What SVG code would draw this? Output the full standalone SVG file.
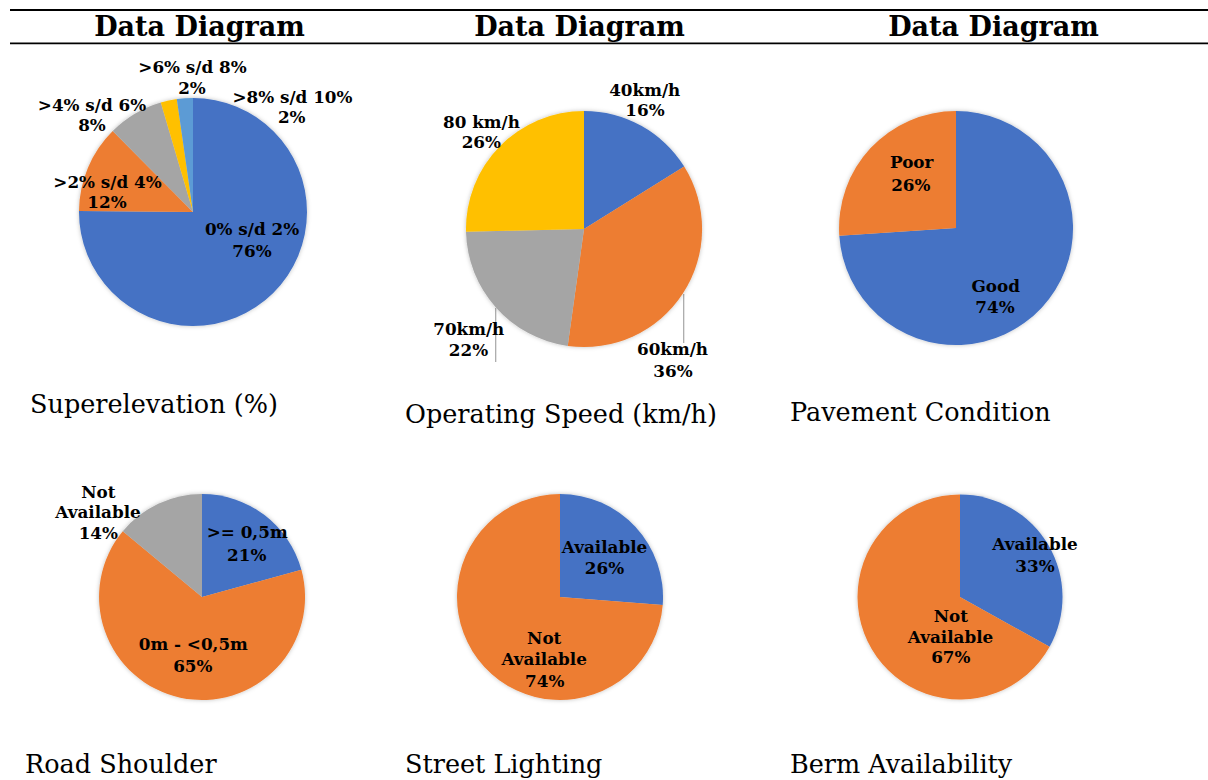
<svg xmlns="http://www.w3.org/2000/svg" width="1208" height="780" viewBox="0 0 1208 780">
<style>
.title{font-family:"DejaVu Serif","Liberation Serif",serif;font-weight:bold;font-size:27px;fill:#000;text-anchor:middle}
.lbl{font-family:"DejaVu Serif","Liberation Serif",serif;font-weight:bold;font-size:16.8px;fill:#000;text-anchor:middle}
.cap{font-family:"DejaVu Serif","Liberation Serif",serif;font-size:25.5px;fill:#000}
.rule{stroke:#000;stroke-width:1.8}
.lead{stroke:#a6a6a6;stroke-width:1.2}
.b{fill:#4472c4}.o{fill:#ed7d31}.g{fill:#a5a5a5}.y{fill:#ffc000}.lb{fill:#5b9bd5}
</style>
<defs>
<filter id="sh" x="-10%" y="-10%" width="120%" height="120%">
<feDropShadow dx="0" dy="0" stdDeviation="2" flood-color="#000" flood-opacity="0.25"/>
</filter>
</defs>
<rect width="1208" height="780" fill="#fff"/>
<g id="header">
<line class="rule" x1="10" y1="10" x2="1208" y2="10"/>
<line class="rule" x1="10" y1="43.3" x2="1208" y2="43.3"/>
<text class="title" x="199.5" y="36">Data Diagram</text>
<text class="title" x="579.5" y="36">Data Diagram</text>
<text class="title" x="993.5" y="36">Data Diagram</text>
</g>
<g id="connectors">
<line class="lead" x1="683.7" y1="294" x2="683.7" y2="343"/>
<line class="lead" x1="495.7" y1="308" x2="495.7" y2="362"/>
</g>
<g id="pie-superelevation">
<g filter="url(#sh)">
<path class="b" d="M193,212 L193,98 A114,114 0 1 1 79,211 Z"/>
<path class="o" d="M193,212 L79,211 A114,114 0 0 1 112.7,131.1 Z"/>
<path class="g" d="M193,212 L112.7,131.1 A114,114 0 0 1 160.8,102.6 Z"/>
<path class="y" d="M193,212 L160.8,102.6 A114,114 0 0 1 176.8,99.1 Z"/>
<path class="lb" d="M193,212 L176.8,99.1 A114,114 0 0 1 193,98 Z"/>
</g>
<text class="lbl" x="192.5" y="72.7">&gt;6% s/d 8%</text>
<text class="lbl" x="192" y="94">2%</text>
<text class="lbl" x="292.5" y="102.7">&gt;8% s/d 10%</text>
<text class="lbl" x="291.7" y="123.3">2%</text>
<text class="lbl" x="92" y="110.7">&gt;4% s/d 6%</text>
<text class="lbl" x="92" y="131">8%</text>
<text class="lbl" x="107.5" y="188.3">&gt;2% s/d 4%</text>
<text class="lbl" x="107" y="208.3">12%</text>
<text class="lbl" x="252" y="235">0% s/d 2%</text>
<text class="lbl" x="252" y="257">76%</text>
<text class="cap" x="30" y="413">Superelevation (%)</text>
</g>
<g id="pie-speed">
<g filter="url(#sh)">
<path class="b" d="M584,229 L584,111 A118,118 0 0 1 684.2,166.6 Z"/>
<path class="o" d="M584,229 L684.2,166.6 A118,118 0 0 1 567.7,345.9 Z"/>
<path class="g" d="M584,229 L567.7,345.9 A118,118 0 0 1 466,231.7 Z"/>
<path class="y" d="M584,229 L466,231.7 A118,118 0 0 1 584,111 Z"/>
</g>
<text class="lbl" x="644.7" y="95.7">40km/h</text>
<text class="lbl" x="645" y="115.7">16%</text>
<text class="lbl" x="481.5" y="127.7">80 km/h</text>
<text class="lbl" x="481.3" y="148.3">26%</text>
<text class="lbl" x="468.8" y="335">70km/h</text>
<text class="lbl" x="468.5" y="356">22%</text>
<text class="lbl" x="672.5" y="355">60km/h</text>
<text class="lbl" x="673" y="376.7">36%</text>
<text class="cap" x="405" y="423">Operating Speed (km/h)</text>
</g>
<g id="pie-pavement">
<g filter="url(#sh)">
<path class="b" d="M956,228 L956,111 A117,117 0 1 1 839.3,235.8 Z"/>
<path class="o" d="M956,228 L839.3,235.8 A117,117 0 0 1 956,111 Z"/>
</g>
<text class="lbl" x="911.7" y="168.3">Poor</text>
<text class="lbl" x="910.8" y="190.7">26%</text>
<text class="lbl" x="995.7" y="292.3">Good</text>
<text class="lbl" x="995" y="313.3">74%</text>
<text class="cap" x="790" y="421">Pavement Condition</text>
</g>
<g id="pie-shoulder">
<g filter="url(#sh)">
<path class="b" d="M202,597 L202,494 A103,103 0 0 1 301.4,569.8 Z"/>
<path class="o" d="M202,597 L301.4,569.8 A103,103 0 1 1 122.8,531.2 Z"/>
<path class="g" d="M202,597 L122.8,531.2 A103,103 0 0 1 202,494 Z"/>
</g>
<text class="lbl" x="98.3" y="497.7">Not</text>
<text class="lbl" x="98" y="518.3">Available</text>
<text class="lbl" x="98.3" y="539.3">14%</text>
<text class="lbl" x="247.2" y="538.3">&gt;= 0,5m</text>
<text class="lbl" x="246.7" y="560.7">21%</text>
<text class="lbl" x="193.3" y="650">0m - &lt;0,5m</text>
<text class="lbl" x="192.8" y="671.7">65%</text>
<text class="cap" x="25" y="773">Road Shoulder</text>
</g>
<g id="pie-lighting">
<g filter="url(#sh)">
<path class="b" d="M560,597 L560,494 A103,103 0 0 1 662.7,605 Z"/>
<path class="o" d="M560,597 L662.7,605 A103,103 0 1 1 560,494 Z"/>
</g>
<text class="lbl" x="604.5" y="553.3">Available</text>
<text class="lbl" x="604.5" y="574">26%</text>
<text class="lbl" x="544.2" y="644">Not</text>
<text class="lbl" x="544.2" y="665">Available</text>
<text class="lbl" x="544.7" y="686.7">74%</text>
<text class="cap" x="405" y="773">Street Lighting</text>
</g>
<g id="pie-berm">
<g filter="url(#sh)">
<path class="b" d="M960,597 L960,494.5 A102.5,102.5 0 0 1 1049.6,646.8 Z"/>
<path class="o" d="M960,597 L1049.6,646.8 A102.5,102.5 0 1 1 960,494.5 Z"/>
</g>
<text class="lbl" x="1035" y="550">Available</text>
<text class="lbl" x="1035" y="572">33%</text>
<text class="lbl" x="950.8" y="621.7">Not</text>
<text class="lbl" x="950.5" y="642.7">Available</text>
<text class="lbl" x="950.8" y="662.7">67%</text>
<text class="cap" x="790" y="773">Berm Availability</text>
</g>
</svg>
